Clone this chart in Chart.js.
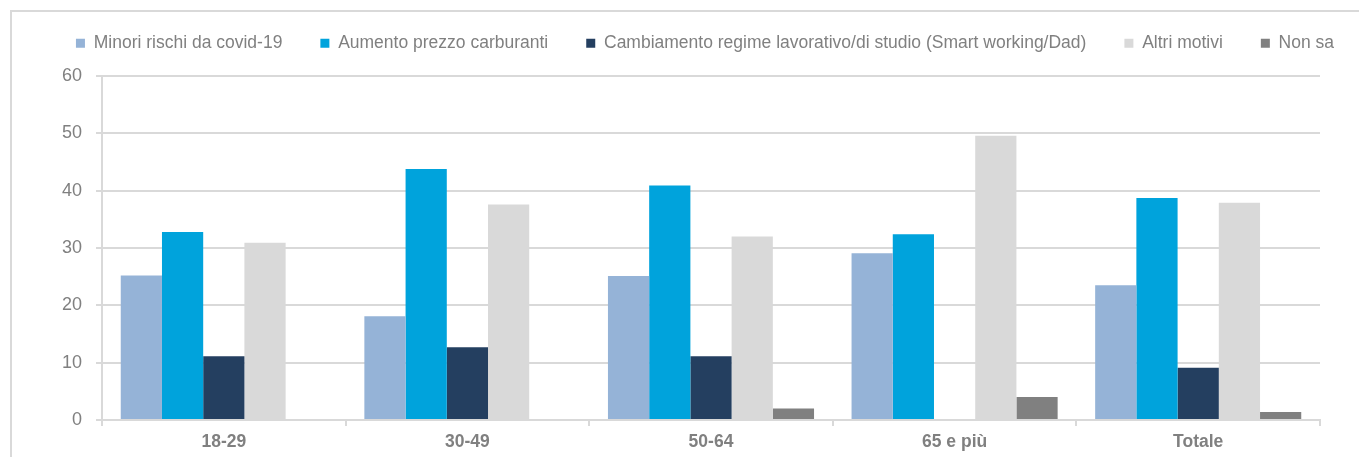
<!DOCTYPE html>
<html>
<head>
<meta charset="utf-8">
<script src="https://cdn.jsdelivr.net/npm/chart.js@4.4.1/dist/chart.umd.min.js"></script>
<style>
  html, body { margin: 0; padding: 0; background: #fff; }
  #wrap { position: relative; width: 1359px; height: 457px; overflow: hidden; }
  #frame { position: absolute; left: 10px; top: 10px; width: 1500px; height: 600px; border: 2px solid #d9d9d9; }
  canvas { position: absolute; left: 0; top: 0; }
</style>
</head>
<body>
<div id="wrap">
  <div id="frame"></div>
  <canvas id="chart" width="1359" height="457"></canvas>
</div>
<script>
// categorie (classi di età)
const categories = ['18-29', '30-49', '50-64', '65 e più', 'Totale'];

// serie
const seriesNames = [
    'Minori rischi da covid-19',
    'Aumento prezzo carburanti',
    'Cambiamento regime lavorativo/di studio (Smart working/Dad)',
    'Altri motivi',
    'Non sa'
];
const minoriRischi = [25.2, 18.1, 25.1, 29.1, 23.5];
const aumentoCarburanti = [32.8, 43.8, 40.9, 32.4, 38.7];
const cambiamentoRegime = [11.1, 12.7, 11.1, null, 9.1];
const altriMotivi = [30.9, 37.6, 32.0, 49.6, 37.9];
const nonSa = [null, null, 2.0, 4.0, 1.4];

// asse y
const yTicks = [0, 10, 20, 30, 40, 50, 60];

const COLORS = ['#95b3d7', '#00a3dc', '#243f60', '#d9d9d9', '#808080'];
const TEXT = '#808080';
const GRID = '#d9d9d9';
const FONT = "'Liberation Sans', Arial, sans-serif";

const seriesValues = [minoriRischi, aumentoCarburanti, cambiamentoRegime, altriMotivi, nonSa];

const datasets = seriesNames.map((name, i) => ({
    label: name,
    data: seriesValues[i],
    backgroundColor: COLORS[i],
    borderWidth: 0,
    categoryPercentage: 0.846,
    barPercentage: 1.0
}));

// legenda su una riga, più spazio sotto e spostata a destra come nell'originale
const EXTRA = 40;
const legendSpace = {
    id: 'legendSpace',
    beforeLayout(chart) {
        const lg = chart.legend;
        if (lg && !lg._patched) {
            const fit = lg.fit;
            lg.fit = function () {
                const mw = this.maxWidth;
                this.maxWidth = mw + EXTRA;
                fit.call(this);
                this.maxWidth = mw;
                this.width = mw;
                this.height += 10.5;
            };
            const draw = lg.draw;
            lg.draw = function () {
                const c = this.ctx;
                const r = this.right;
                this.right = r + EXTRA;
                c.save();
                c.translate(45 - EXTRA / 2, -3.5);
                draw.call(this);
                c.restore();
                this.right = r;
            };
            lg._patched = true;
        }
    }
};

const ctx = document.getElementById('chart');
const myChart = new Chart(ctx, {
    type: 'bar',
    data: { labels: categories, datasets: datasets },
    options: {
        responsive: false,
        animation: false,
        devicePixelRatio: 1,
        layout: { padding: { left: 0, right: 39, top: 0, bottom: 0 } },
        plugins: {
            legend: {
                display: true,
                position: 'top',
                labels: {
                    boxWidth: 9,
                    boxHeight: 9,
                    padding: 38,
                    color: TEXT,
                    font: { family: FONT, size: 17.5 }
                }
            },
            tooltip: { enabled: false }
        },
        scales: {
            x: {
                offset: true,
                grid: {
                    display: true,
                    offset: true,
                    drawOnChartArea: false,
                    drawTicks: true,
                    tickLength: 6,
                    color: GRID,
                    lineWidth: 2
                },
                border: { display: true, color: GRID, width: 2 },
                ticks: {
                    color: TEXT,
                    padding: 6,
                    font: { family: FONT, size: 17.5, weight: 'bold' }
                },
                afterFit(scale) { scale.height = 37; }
            },
            y: {
                min: 0,
                max: 60,
                grid: {
                    display: true,
                    drawTicks: true,
                    tickLength: 6,
                    color: GRID,
                    lineWidth: 2
                },
                border: { display: true, color: GRID, width: 2 },
                afterBuildTicks(scale) {
                    scale.ticks = yTicks.map(v => ({ value: v }));
                },
                ticks: {
                    color: TEXT,
                    padding: 14,
                    font: { family: FONT, size: 18 }
                },
                afterFit(scale) { scale.width = 102; }
            }
        }
    },
    plugins: [legendSpace]
});
</script>
</body>
</html>
